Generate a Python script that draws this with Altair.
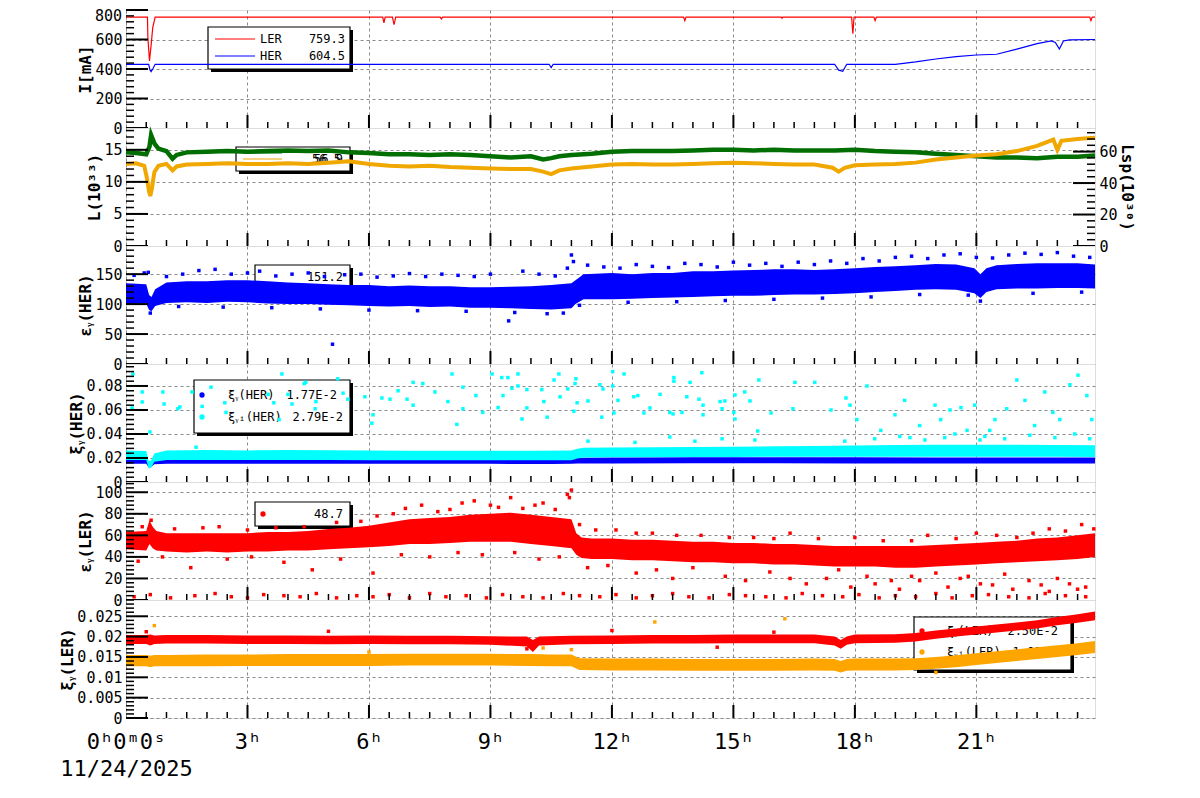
import altair as alt
import pandas as pd

# ---------------- data ----------------
# Panel 1: beam currents [mA]
LER_T = [0, 0.53, 0.54, 0.58, 0.62, 0.66, 0.72, 6.34, 6.37, 6.40, 6.58, 6.62, 6.66, 7.76, 7.79, 7.82,
         13.77, 13.80, 13.83, 16.18, 16.20, 16.22, 17.92, 17.95, 17.98, 18.47, 18.50, 18.53,
         23.80, 23.83, 23.86, 23.93]
LER_V = [752, 752, 615, 455, 560, 680, 752, 752, 712, 752, 752, 700, 752, 752, 740, 752,
         752, 728, 752, 752, 744, 752, 752, 640, 752, 752, 728, 752,
         752, 728, 752, 752]
HER_T = [0, 0.56, 0.59, 0.62, 0.66, 0.72, 10.45, 10.50, 10.55, 17.50, 17.60, 17.70, 17.80,
         19.0, 19.5, 20.0, 20.5, 21.0, 21.5, 22.0, 22.5, 22.85, 22.95, 23.05, 23.15, 23.3, 23.93]
HER_V = [432, 432, 395, 382, 400, 432, 432, 410, 432, 432, 392, 385, 432,
         432, 448, 468, 484, 495, 500, 535, 572, 590, 580, 535, 590, 598, 600]

# Panel 2: luminosity
GRN_T = [0, 0.25, 0.5, 0.58, 0.62, 0.7, 0.8, 1.0, 1.15, 1.25, 1.5, 2, 2.5, 3, 3.5, 4, 4.5, 5, 5.5, 6,
         6.5, 7, 7.5, 8, 8.5, 9, 9.5, 10, 10.3, 10.5, 10.7, 11, 11.5, 12, 12.5, 13, 13.5, 14, 14.5, 15,
         15.5, 16, 16.5, 17, 17.5, 18, 18.5, 19, 19.5, 20, 20.5, 21, 21.5, 22, 22.5, 23, 23.5, 23.93]
GRN_V = [14.6, 14.5, 14.3, 15.5, 17.3, 16.0, 15.2, 14.8, 13.6, 14.2, 14.6, 14.7, 14.8, 14.7, 14.8, 14.9, 14.8, 14.9, 14.6, 14.5,
         14.3, 14.3, 14.2, 14.3, 14.2, 14.0, 13.8, 14.0, 13.5, 13.7, 14.0, 14.2, 14.4, 14.7, 14.8, 14.8, 14.8, 14.9, 15.0, 15.0,
         14.9, 15.0, 14.9, 14.9, 14.9, 15.0, 14.8, 14.7, 14.6, 14.4, 14.2, 14.0, 13.8, 13.8, 13.7, 13.9, 13.9, 14.1]
ORG_T = [0, 0.25, 0.45, 0.52, 0.57, 0.6, 0.64, 0.7, 0.8, 1.0, 1.15, 1.25, 1.5, 2, 2.5, 3, 3.5, 4, 4.5, 5,
         5.5, 6, 6.5, 7, 7.5, 8, 8.5, 9, 9.5, 10, 10.3, 10.5, 10.7, 11, 11.5, 12, 12.5, 13, 13.5, 14,
         14.5, 15, 15.5, 16, 16.5, 17, 17.45, 17.6, 17.75, 18, 18.5, 19, 19.5, 20, 20.5, 21, 21.5, 22, 22.5, 22.9,
         23.0, 23.1, 23.5, 23.93]
ORG_V = [12.8, 12.9, 12.5, 10.5, 8.5, 7.8, 9.0, 11.5, 12.5, 12.8, 11.8, 12.4, 12.7, 12.8, 12.9, 12.8, 12.8, 12.9, 12.8, 13.0,
         13.2, 12.8, 12.5, 12.4, 12.5, 12.3, 12.2, 12.1, 12.0, 12.0, 11.6, 11.2, 11.8, 12.1, 12.4, 12.7, 12.8, 12.7, 12.7, 12.8,
         12.9, 13.0, 12.9, 12.8, 12.7, 12.7, 12.2, 11.6, 12.2, 12.6, 12.7, 12.8, 13.0, 13.5, 13.8, 14.1, 14.3, 14.8, 15.6, 16.6,
         15.0, 16.4, 16.7, 16.9]

# Panel 3: vertical emittance HER (dense band + scattered points)
EH_T = [0, 0.5, 0.57, 0.63, 0.72, 1, 1.5, 2, 2.5, 3, 3.5, 4, 4.5, 5, 5.5, 6, 6.5, 7, 7.5, 8,
        8.5, 9, 9.5, 10, 10.5, 11, 11.1, 11.3, 12, 12.5, 13, 13.5, 14, 14.5, 15, 15.5, 16, 16.5, 17, 17.5,
        18, 18.5, 19, 19.5, 20, 20.5, 20.95, 21.1, 21.25, 21.5, 22, 22.5, 23, 23.5, 23.93]
EH_LO = [100, 101, 90, 88, 97, 102, 103, 102, 104, 103, 101, 100, 100, 99, 98, 97, 96, 97, 95, 96,
         94, 94, 93, 92, 91, 93, 100, 108, 108, 109, 110, 111, 112, 113, 114, 114, 115, 116, 116, 117,
         118, 120, 122, 124, 125, 124, 118, 110, 120, 125, 126, 126, 127, 127, 126]
EH_HI = [135, 133, 115, 112, 125, 136, 138, 138, 140, 140, 138, 136, 135, 133, 132, 132, 130, 131, 130, 130,
         128, 128, 129, 130, 132, 135, 140, 150, 152, 150, 152, 152, 155, 155, 156, 157, 158, 158, 157, 158,
         160, 162, 163, 165, 167, 166, 160, 150, 160, 165, 167, 168, 168, 168, 166]
EH_PT_T = [0.2, 0.45, 0.55, 1.0, 1.4, 1.8, 2.2, 2.6, 3.0, 3.3, 3.7, 4.1, 4.5, 4.9, 5.1, 5.4, 5.8, 6.2, 6.6, 7.0,
           7.4, 7.8, 8.2, 8.6, 9.0, 9.45, 9.8, 10.2, 10.6, 10.9, 11.0, 11.05, 11.4, 11.8, 12.2, 12.6, 13.0, 13.4, 13.8, 14.2,
           14.6, 15.0, 15.4, 15.8, 16.2, 16.6, 17.0, 17.4, 17.8, 18.2, 18.6, 19.0, 19.4, 19.8, 20.2, 20.6, 21.0, 21.4, 21.8, 22.2,
           22.6, 23.0, 23.4, 23.8,
           0.6, 1.3, 2.4, 3.6, 4.8, 6.0, 7.2, 8.4, 9.6, 10.4, 10.8, 11.2, 12.4, 13.6, 14.8, 16.0, 17.2, 18.4, 19.6, 20.8,
           21.1, 22.4, 23.6]
EH_PT_V = [148, 152, 153, 146, 150, 156, 158, 150, 152, 155, 147, 150, 152, 146, 33, 149, 150, 145, 147, 151,
           146, 150, 148, 146, 150, 72, 155, 150, 147, 160, 182, 171, 165, 162, 160, 166, 163, 161, 168, 166,
           162, 170, 165, 168, 163, 170, 166, 172, 168, 176, 172, 178, 180, 176, 182, 184, 178, 177, 182, 185,
           183, 186, 180, 178,
           85, 96, 95, 94, 92, 90, 89, 88, 86, 84, 85, 98, 103, 104, 106, 108, 110, 112, 116, 115,
           105, 118, 120]

# Panel 4: beam-beam parameter HER
BLU_T = [0, 0.5, 0.56, 0.62, 0.7, 1, 3, 6, 9, 10.5, 11, 11.15, 12, 14, 16, 18, 20, 22, 23.93]
BLU_LO = [0.0152, 0.0152, 0.0120, 0.0125, 0.0148, 0.0153, 0.0153, 0.0152, 0.0151, 0.0150, 0.0151, 0.0154, 0.0155, 0.0156, 0.0156, 0.0155, 0.0155, 0.0154, 0.0154]
BLU_HI = [0.0196, 0.0196, 0.0165, 0.0168, 0.0192, 0.0197, 0.0197, 0.0196, 0.0195, 0.0194, 0.0195, 0.0203, 0.0205, 0.0206, 0.0206, 0.0206, 0.0205, 0.0205, 0.0205]
CYN_T = [0, 0.5, 0.56, 0.62, 0.7, 1, 2, 3, 4, 5, 6, 7, 8, 9, 10, 11, 11.15, 11.3, 12, 13,
         14, 15, 16, 17, 18, 19, 20, 21, 22, 23, 23.93]
CYN_LO = [0.0183, 0.0183, 0.0112, 0.0118, 0.0168, 0.0183, 0.0184, 0.0184, 0.0183, 0.0183, 0.0182, 0.0182, 0.0181, 0.0181, 0.0181, 0.0182, 0.0195, 0.0204, 0.0206, 0.0207,
          0.0208, 0.0209, 0.0210, 0.0211, 0.0211, 0.0211, 0.0211, 0.0210, 0.0210, 0.0210, 0.0209]
CYN_HI = [0.0262, 0.0258, 0.0175, 0.0180, 0.0238, 0.0262, 0.0266, 0.0263, 0.0266, 0.0264, 0.0263, 0.0261, 0.0260, 0.0260, 0.0261, 0.0263, 0.0278, 0.0286, 0.0288, 0.0290,
          0.0292, 0.0294, 0.0297, 0.0300, 0.0305, 0.0308, 0.0310, 0.0311, 0.0311, 0.0309, 0.0307]
CYP_T = [0.15, 0.17, 0.40, 0.40, 0.59, 0.91, 0.94, 1.28, 1.33, 1.63, 1.73, 1.88, 2.10, 2.44, 2.47, 3.51, 3.65, 3.78, 3.85, 4.00,
         4.10, 4.40, 4.44, 4.67, 4.69, 5.23, 5.36, 5.48, 5.90, 6.07, 6.10, 6.32, 6.52,
         6.72, 6.94, 7.09, 7.09, 7.33, 7.63, 7.95, 8.05, 8.17, 8.32, 8.32, 8.64, 8.81, 9.04, 9.19, 9.28, 9.31, 9.43, 9.53, 9.68,
         9.68, 9.78, 9.90, 9.90, 10.27, 10.32, 10.40, 10.57, 10.69, 10.72, 10.91, 11.06, 11.11, 11.09, 11.14, 11.41, 11.41, 11.70,
         11.75, 11.78, 12.02, 12.02, 12.05, 12.15, 12.30, 12.54, 12.64, 12.79, 12.94, 13.19, 13.43, 13.43, 13.51, 13.53, 13.53, 13.73,
         13.85, 13.93, 14.15, 14.22, 14.25, 14.25, 14.67, 14.72, 14.79, 14.72, 15.01, 15.04, 15.04, 15.28, 15.41, 15.60, 15.63, 15.93,
         16.47, 16.52,
         17.01, 17.41, 17.78, 17.88, 18.05, 18.30, 18.64, 18.99, 19.23, 19.36, 19.60, 19.98, 20.12, 20.35, 20.62, 20.77, 20.96, 21.09,
         21.33, 21.46, 21.75, 22.00, 22.20, 22.44, 22.69, 22.89, 23.06, 23.31, 23.51, 23.73, 23.85,
         12.57, 14.05, 15.53, 17.75, 18.49, 19.11, 19.73, 20.22, 20.47, 21.21, 21.70, 22.32, 22.94, 23.43, 23.80]
CYP_V = [0.0617, 0.090, 0.075, 0.0667, 0.0417, 0.075, 0.065, 0.061, 0.0625, 0.075, 0.029, 0.063, 0.079, 0.066, 0.058, 0.073, 0.066, 0.052, 0.090, 0.073,
         0.065, 0.082, 0.083, 0.061, 0.067, 0.086, 0.074, 0.069, 0.071, 0.049, 0.056, 0.070, 0.069,
         0.076, 0.069, 0.083, 0.064, 0.082, 0.075, 0.067, 0.090, 0.048, 0.061, 0.079, 0.072, 0.058, 0.090, 0.062, 0.087, 0.072, 0.087, 0.078, 0.090,
         0.080, 0.0525, 0.077, 0.0617, 0.077, 0.067, 0.054, 0.085, 0.090, 0.071, 0.0775, 0.059, 0.086, 0.082, 0.066, 0.0675, 0.034, 0.081,
         0.054, 0.0775, 0.080, 0.092, 0.0575, 0.068, 0.090, 0.071, 0.072, 0.0575, 0.0617, 0.073, 0.058, 0.0375, 0.0567, 0.087, 0.084, 0.058,
         0.071, 0.083, 0.069, 0.091, 0.064, 0.056, 0.067, 0.061, 0.0675, 0.036, 0.058, 0.0525, 0.0725, 0.075, 0.0675, 0.0425, 0.085, 0.0575,
         0.061, 0.083,
         0.083, 0.060, 0.070, 0.064, 0.052, 0.080, 0.043, 0.056, 0.068, 0.037, 0.047, 0.064, 0.052, 0.060, 0.062, 0.043, 0.064, 0.035,
         0.043, 0.052, 0.061, 0.085, 0.068, 0.047, 0.075, 0.058, 0.052, 0.081, 0.089, 0.072, 0.052,
         0.033, 0.034, 0.035, 0.034, 0.036, 0.038, 0.035, 0.037, 0.040, 0.038, 0.036, 0.039, 0.037, 0.040, 0.036]

# Panel 5: vertical emittance LER
ELR_T = [0, 0.5, 0.58, 0.66, 0.75, 1, 1.5, 2, 2.5, 3, 3.5, 4, 4.5, 5, 5.5, 6, 6.5, 7, 7.5, 8,
         8.5, 9, 9.5, 10, 10.5, 11, 11.12, 11.25, 11.5, 12, 12.5, 13, 13.5, 14, 14.5, 15, 15.5, 16, 16.5, 17,
         17.5, 18, 18.5, 19, 19.5, 20, 20.5, 21, 21.5, 22, 22.5, 23, 23.5, 23.93]
ELR_LO = [47, 46, 52, 48, 46, 45, 44, 45, 44, 45, 45, 46, 46, 47, 48, 49, 50, 52, 52, 53,
          54, 54, 54, 52, 50, 48, 42, 39, 38, 38, 37, 37, 36, 35, 35, 34, 34, 33, 33, 32,
          31, 31, 31, 30, 30, 31, 32, 33, 34, 35, 36, 37, 38, 40]
ELR_HI = [63, 64, 74, 68, 64, 62, 62, 62, 62, 62, 63, 63, 64, 66, 67, 69, 72, 75, 76, 77,
          79, 80, 81, 79, 77, 75, 62, 58, 57, 57, 56, 56, 55, 54, 54, 53, 53, 52, 52, 51,
          50, 50, 50, 50, 50, 51, 52, 53, 54, 55, 57, 58, 60, 62]
ELP_T = [0.4, 0.62, 1.2, 1.9, 2.3, 3.0, 3.7, 4.4, 5.2, 5.8, 6.2, 6.6, 6.9, 7.3, 7.7, 8.0, 8.3, 8.6, 9.0, 9.2,
         9.5, 9.8, 10.1, 10.3, 10.6, 10.9, 10.95, 11.0, 11.2, 11.6, 12.1, 12.6, 13.0, 13.6, 14.2, 14.9, 15.5, 16.0, 16.4, 17.1,
         18.0, 18.7, 19.4, 19.8, 20.5, 21.0, 21.5, 22.0, 22.4, 22.8, 23.2, 23.6, 23.9,
         0.3, 0.9, 1.6, 2.5, 3.1, 3.9, 4.6, 5.3, 6.1, 6.8, 7.5, 8.2, 8.8, 9.6, 10.2, 10.7, 11.4, 11.9, 12.6, 13.1,
         13.5, 14.0, 14.8, 15.3, 15.9, 16.4, 16.8, 17.3, 17.6, 17.9, 18.3, 18.5, 18.9, 19.1, 19.4, 19.6, 20.0, 20.3, 20.6, 20.8,
         21.1, 21.4, 21.7, 21.9, 22.3, 22.6, 22.8, 23.0, 23.3, 23.5, 23.7,
         0.2, 0.6, 1.1, 1.7, 2.2, 2.6, 3.0, 3.4, 3.9, 4.3, 4.7, 5.2, 5.7, 6.1, 6.5, 7.0, 7.5, 7.9, 8.4, 8.9,
         9.3, 9.8, 10.3, 10.8, 11.2, 11.7, 12.1, 12.6, 13.0, 13.5, 13.9, 14.4, 14.9, 15.3, 15.8, 16.3, 16.7, 17.2, 17.7, 18.1,
         18.6, 19.0, 19.5, 20.0, 20.4, 20.9, 21.3, 21.8, 22.3, 22.7, 23.2, 23.7]
ELP_V = [68, 74, 66, 67, 68, 65, 67, 68, 72, 73, 78, 80, 85, 88, 82, 84, 90, 92, 88, 86,
         95, 85, 88, 90, 84, 98, 95, 102, 70, 65, 65, 62, 62, 60, 60, 58, 58, 57, 62, 57,
         58, 55, 55, 60, 57, 62, 60, 58, 62, 66, 64, 70, 66,
         36, 40, 30, 38, 40, 35, 28, 38, 25, 42, 40, 44, 42, 44, 38, 40, 30, 32, 25, 28,
         20, 30, 22, 18, 26, 20, 15, 20, 28, 12, 22, 15, 18, 10, 22, 18, 25, 12, 20, 22,
         15, 14, 24, 10, 18, 14, 8, 20, 15, 10, 12,
         3, 5, 2, 4, 6, 3, 2, 5, 4, 3, 6, 2, 4, 3, 5, 2, 6, 3, 4, 2,
         5, 3, 2, 6, 4, 3, 5, 2, 4, 6, 3, 2, 5, 4, 3, 2, 6, 4, 3, 5,
         2, 4, 3, 6, 2, 4, 5, 3, 2, 6, 4, 3]

# Panel 6: beam-beam parameter LER
XLR_T = [0, 0.5, 0.6, 0.7, 1, 2, 3, 4, 5, 6, 7, 8, 9, 9.9, 10.05, 10.2, 11, 12, 13, 14,
         15, 16, 17, 17.5, 17.65, 17.8, 18, 19, 19.5, 20, 20.5, 21, 21.5, 22, 22.5, 23, 23.5, 23.93]
XLR_LO = [0.0182, 0.0182, 0.0178, 0.0182, 0.0183, 0.0183, 0.0182, 0.0182, 0.0181, 0.0182, 0.0181, 0.0181, 0.0180, 0.0176, 0.0162, 0.0178, 0.0181, 0.0182, 0.0183, 0.0183,
          0.0184, 0.0184, 0.0184, 0.0178, 0.0170, 0.0180, 0.0184, 0.0185, 0.0188, 0.0195, 0.0200, 0.0205, 0.0210, 0.0215, 0.0220, 0.0228, 0.0234, 0.0240]
XLR_HI = [0.0204, 0.0204, 0.0205, 0.0203, 0.0204, 0.0204, 0.0203, 0.0203, 0.0202, 0.0203, 0.0202, 0.0202, 0.0201, 0.0200, 0.0192, 0.0200, 0.0202, 0.0203, 0.0204, 0.0204,
          0.0205, 0.0205, 0.0205, 0.0200, 0.0192, 0.0200, 0.0205, 0.0206, 0.0209, 0.0215, 0.0220, 0.0225, 0.0230, 0.0235, 0.0240, 0.0248, 0.0255, 0.0262]
ORL_T = [0, 0.5, 0.6, 0.7, 1, 2, 3, 4, 5, 6, 7, 8, 9, 10, 10.5, 11, 11.2, 12, 13, 14,
         15, 16, 17, 17.5, 17.65, 17.8, 18, 19, 19.5, 20, 20.5, 21, 21.5, 22, 22.5, 23, 23.5, 23.93]
ORL_LO = [0.0127, 0.0127, 0.0125, 0.0127, 0.0127, 0.0127, 0.0128, 0.0128, 0.0128, 0.0128, 0.0129, 0.0129, 0.0129, 0.0128, 0.0127, 0.0127, 0.0118, 0.0117, 0.0117, 0.0116,
          0.0116, 0.0116, 0.0117, 0.0116, 0.0112, 0.0116, 0.0117, 0.0117, 0.0118, 0.0121, 0.0125, 0.0130, 0.0135, 0.0140, 0.0145, 0.0150, 0.0155, 0.0160]
ORL_HI = [0.0155, 0.0155, 0.0153, 0.0155, 0.0155, 0.0156, 0.0156, 0.0157, 0.0157, 0.0157, 0.0158, 0.0158, 0.0158, 0.0157, 0.0156, 0.0156, 0.0147, 0.0146, 0.0146, 0.0145,
          0.0145, 0.0145, 0.0146, 0.0145, 0.0140, 0.0145, 0.0146, 0.0146, 0.0147, 0.0150, 0.0154, 0.0159, 0.0164, 0.0169, 0.0174, 0.0179, 0.0184, 0.0189]
ORP_T = [0.7, 13.06, 16.27, 10.3, 11.0, 6.0, 20.0]
ORP_V = [0.0227, 0.0236, 0.0244, 0.0172, 0.0168, 0.0162, 0.0112]
RDP_T = [0.5, 5.0, 12.0, 16.0, 14.6, 9.9]
RDP_V = [0.0212, 0.0213, 0.0215, 0.0211, 0.0174, 0.0170]

# legend texts
LEG1 = [("LER", "759.3", "red"), ("HER", "604.5", "blue")]
LEG4 = [("ξᵧ(HER)", "1.77E-2", "blue"), ("ξᵧᵢ(HER)", "2.79E-2", "cyan")]
LEG6 = [("ξᵧ(LER)", "2.50E-2", "red"), ("ξᵧᵢ(LER)", "1.69E-2", "orange")]
X_LABEL0 = ["0ʰ0ᵐ0ˢ", "11/24/2025"]
XVALS = [0, 3, 6, 9, 12, 15, 18, 21]
I_TOP_LABEL = "800"

# ---------------- helpers ----------------
W, H = 969, 118
TMAX = 23.93
MONO = "DejaVu Sans Mono"
ONE = pd.DataFrame({"a": [0]})
GRID = dict(grid=True, gridDash=[3, 3], gridColor="#8a8a8a", gridWidth=1, gridOpacity=1)
GREEN = "#006e00"
AMBER = "#f0a800"
ORANGE = "#ffa500"


def X(bottom=False):
    if bottom:
        expr = ("datum.value == 0 ? ['%s', '%s'] : datum.label + 'ʰ'" % (X_LABEL0[0], X_LABEL0[1]))
        ax = alt.Axis(values=XVALS, ticks=False, domain=False, title=None, labelFont=MONO,
                      labelFontSize=22, labelColor="black", labelPadding=13, labelLineHeight=27,
                      labelFlush=False, labelOverlap=False, labelExpr=expr, **GRID)
    else:
        ax = alt.Axis(values=XVALS, ticks=False, domain=False, labels=False, title=None, **GRID)
    return alt.X("t:Q", scale=alt.Scale(domain=[0, TMAX], nice=False, zero=False), axis=ax)


def Ymaker(dom, vals, title, fmt=None, gridvals=None):
    kw = dict(values=vals, ticks=False, domain=False, title=title, titleFont=MONO, titleFontSize=16,
              titleFontWeight="bold", titleColor="black", titlePadding=1, labelFont=MONO, labelFontSize=15,
              labelColor="black", labelPadding=4, labelFlush=False, labelOverlap=False, **GRID)
    if fmt:
        kw["format"] = fmt

    def f(field):
        return alt.Y(f"{field}:Q", scale=alt.Scale(domain=dom, nice=False, zero=False), axis=alt.Axis(**kw))
    return f


def xticks(xe):
    maj = pd.DataFrame({"t": XVALS[1:]})
    mnr = pd.DataFrame({"t": [k / 2 for k in range(1, 48) if k % 6]})
    return [
        alt.Chart(maj).mark_rule(color="black", strokeWidth=2).encode(x=xe, y=alt.value(H), y2=alt.value(H - 13)),
        alt.Chart(mnr).mark_rule(color="black", strokeWidth=1.5).encode(x=xe, y=alt.value(H), y2=alt.value(H - 6)),
    ]


def yticks(ye, major, step, top, right=False):
    n = int(round(top / step))
    minor = [round(k * step, 6) for k in range(n + 1) if k * step <= top]
    minor = [m for m in minor if all(abs(m - M) > 1e-9 for M in major)]
    x0 = W if right else 0
    d = -1 if right else 1
    return [
        alt.Chart(pd.DataFrame({"v": major})).mark_rule(color="black", strokeWidth=2).encode(
            y=ye("v"), x=alt.value(x0), x2=alt.value(x0 + d * 22)),
        alt.Chart(pd.DataFrame({"v": minor})).mark_rule(color="black", strokeWidth=1.5).encode(
            y=ye("v"), x=alt.value(x0), x2=alt.value(x0 + d * 8)),
    ]


def box(x1, y1, x2, y2):
    return [
        alt.Chart(ONE).mark_rect(fill="black").encode(
            x=alt.value(x1 + 3), x2=alt.value(x2 + 3), y=alt.value(y1 + 3), y2=alt.value(y2 + 3)),
        alt.Chart(ONE).mark_rect(fill="white", stroke="black", strokeWidth=1.2).encode(
            x=alt.value(x1), x2=alt.value(x2), y=alt.value(y1), y2=alt.value(y2)),
    ]


def txt(s, x, y, align="left", size=12):
    return alt.Chart(ONE).mark_text(text=s, align=align, baseline="middle", font=MONO,
                                    fontSize=size, color="black").encode(x=alt.value(x), y=alt.value(y))


def hline(x1, x2, y, color, w=1.2):
    return alt.Chart(ONE).mark_rule(color=color, strokeWidth=w).encode(
        x=alt.value(x1), x2=alt.value(x2), y=alt.value(y))


def dot(x, y, color):
    return alt.Chart(ONE).mark_circle(size=28, color=color, opacity=1).encode(x=alt.value(x), y=alt.value(y))


def band(t, lo, hi, xe, ye, color):
    df = pd.DataFrame({"t": t, "lo": lo, "hi": hi})
    return alt.Chart(df).mark_area(color=color, opacity=1).encode(x=xe, y=ye("lo"), y2=alt.Y2("hi:Q"))


def pts(t, v, xe, ye, color, size=10):
    df = pd.DataFrame({"t": t, "v": v})
    return alt.Chart(df).mark_square(color=color, size=size, opacity=1).encode(x=xe, y=ye("v"))


def line(t, v, xe, ye, color, w=1.2):
    df = pd.DataFrame({"t": t, "v": v})
    return alt.Chart(df).mark_line(color=color, strokeWidth=w).encode(x=xe, y=ye("v"))


# ---------------- panels ----------------
xe = X(False)
xb = X(True)

# 1: currents (top label drawn as text so that it stays inside the page)
y1 = Ymaker([0, 800], [0, 200, 400, 600], "I[mA]")
p1 = alt.layer(
    *box(82, 17, 224, 59),
    hline(89, 129, 29, LEG1[0][2]), txt(LEG1[0][0], 134, 29), txt(LEG1[0][1], 219, 29, "right"),
    hline(89, 129, 46, LEG1[1][2]), txt(LEG1[1][0], 134, 46), txt(LEG1[1][1], 219, 46, "right"),
    line(LER_T, LER_V, xe, y1, "#ff0000"),
    line(HER_T, HER_V, xe, y1, "#0000ff"),
    *xticks(xe), *yticks(y1, [0, 200, 400, 600, 800], 40, 800),
    txt(I_TOP_LABEL, -4, 6, "right", 15),
).properties(width=W, height=H)

# 2: luminosity with right axis
y2 = Ymaker([0, 18.4], [0, 5, 10, 15], "L(10³³)")
y2r_ax = alt.Axis(orient="right", values=[0, 20, 40, 60], ticks=False, domain=False, grid=False,
                  title="Lsp(10³⁰)", titleFont=MONO, titleFontSize=16, titleFontWeight="bold",
                  titleColor="black", titlePadding=1, labelFont=MONO, labelFontSize=15, labelColor="black",
                  labelPadding=4, labelFlush=False, labelOverlap=False)


def y2r(field):
    return alt.Y(f"{field}:Q", scale=alt.Scale(domain=[0, 75], nice=False, zero=False), axis=y2r_ax)


left2 = alt.layer(
    *box(110, 19, 224, 43),
    hline(117, 156, 25, GREEN), hline(117, 156, 31, AMBER),
    txt("56.9", 217, 31, "right"), txt("56.5", 215, 31, "right"),
    line(GRN_T, GRN_V, xe, y2, GREEN, 4.5),
    line(ORG_T, ORG_V, xe, y2, AMBER, 4.0),
    *xticks(xe), *yticks(y2, [0, 5, 10, 15], 1, 18.4),
)
right2 = alt.layer(*yticks(y2r, [0, 20, 40, 60], 4, 75, right=True))
p2 = alt.layer(left2, right2).resolve_scale(y="independent").properties(width=W, height=H)

# 3: emittance HER
y3 = Ymaker([0, 197], [0, 50, 100, 150], "εᵧ(HER)")
p3 = alt.layer(
    *box(129, 19, 224, 43),
    txt("151.2", 217, 31, "right"),
    band(EH_T, EH_LO, EH_HI, xe, y3, "#0000ff"),
    pts(EH_PT_T, EH_PT_V, xe, y3, "#0000ff", 12),
    *xticks(xe), *yticks(y3, [0, 50, 100, 150], 10, 197),
).properties(width=W, height=H)

# 4: xi HER
y4 = Ymaker([0, 0.0983], [0, 0.02, 0.04, 0.06, 0.08], "ξᵧ(HER)", "~g")
p4 = alt.layer(
    *box(68, 16, 224, 69),
    dot(76, 31, LEG4[0][2]), txt(LEG4[0][0], 102, 31), txt(LEG4[0][1], 211, 31, "right"),
    dot(76, 53, LEG4[1][2]), txt(LEG4[1][0], 102, 53), txt(LEG4[1][1], 217, 53, "right"),
    band(BLU_T, BLU_LO, BLU_HI, xe, y4, "#0000ff"),
    band(CYN_T, CYN_LO, CYN_HI, xe, y4, "#00ffff"),
    pts(CYP_T, CYP_V, xe, y4, "#00ffff", 12),
    *xticks(xe), *yticks(y4, [0, 0.02, 0.04, 0.06, 0.08], 0.004, 0.0983),
).properties(width=W, height=H)

# 5: emittance LER
y5 = Ymaker([0, 109.5], [0, 20, 40, 60, 80, 100], "εᵧ(LER)")
p5 = alt.layer(
    *box(129, 20, 224, 44),
    dot(137, 32, "red"), txt("48.7", 217, 32, "right"),
    band(ELR_T, ELR_LO, ELR_HI, xe, y5, "#ff0000"),
    pts(ELP_T, ELP_V, xe, y5, "#ff0000", 12),
    *xticks(xe), *yticks(y5, [0, 20, 40, 60, 80, 100], 4, 109.5),
).properties(width=W, height=H)

# 6: xi LER
y6 = Ymaker([0, 0.029], [0, 0.005, 0.01, 0.015, 0.02, 0.025], "ξᵧ(LER)", "~g")
p6 = alt.layer(
    *box(788, 17, 945, 70),
    dot(796, 31, LEG6[0][2]), txt(LEG6[0][0], 821, 31), txt(LEG6[0][1], 932, 31, "right"),
    dot(796, 52, LEG6[1][2]), txt(LEG6[1][0], 821, 52), txt(LEG6[1][1], 937, 52, "right"),
    band(XLR_T, XLR_LO, XLR_HI, xb, y6, "#ff0000"),
    band(ORL_T, ORL_LO, ORL_HI, xb, y6, ORANGE),
    pts(RDP_T, RDP_V, xb, y6, "#ff0000", 12),
    pts(ORP_T, ORP_V, xb, y6, ORANGE, 12),
    *xticks(xb), *yticks(y6, [0, 0.005, 0.01, 0.015, 0.02, 0.025], 0.001, 0.029),
).properties(width=W, height=H)

chart = alt.vconcat(p1, p2, p3, p4, p5, p6, spacing=0, bounds="flush").properties(
    padding={"left": 51, "top": 0, "right": 5, "bottom": 5}
).configure_view(stroke="black", strokeWidth=2).configure(background="white")

chart.save("out.html", embed_options={"renderer": "svg", "actions": False})
